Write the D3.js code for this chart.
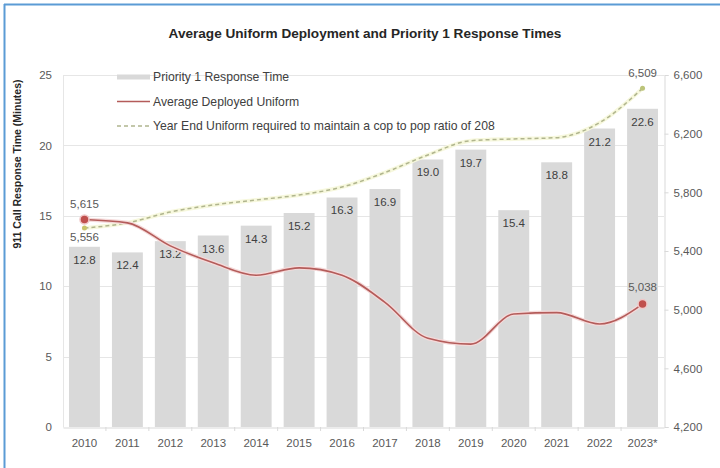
<!DOCTYPE html>
<html><head><meta charset="utf-8">
<script src="https://cdn.jsdelivr.net/npm/d3@7"></script>
<style>
body{margin:0;background:#fff;}
svg text{font-family:"Liberation Sans","Open Sans",sans-serif;}
</style></head>
<body><svg id="c" width="720" height="468"></svg>
<script>
const years = ["2010","2011","2012","2013","2014","2015","2016","2017","2018","2019","2020","2021","2022","2023*"];
const responseTime = [12.8,12.4,13.2,13.6,14.3,15.2,16.3,16.9,19.0,19.7,15.4,18.8,21.2,22.6];
const deployed = [5615,5592,5435,5320,5235,5285,5235,5050,4805,4765,4970,4980,4902,5038];
const required = [5556,5592,5666,5714,5748,5782,5836,5935,6055,6152,6164,6173,6275,6509];
const leftTicks = [0,5,10,15,20,25];
const rightTicks = [4200,4600,5000,5400,5800,6200,6600];
const legendLabels = ["Priority 1 Response Time","Average Deployed Uniform","Year End Uniform required to maintain a cop to pop ratio of 208"];
const title = "Average Uniform Deployment and Priority 1 Response Times";
const yTitle = "911 Call Response Time (Minutes)";

const svg = d3.select("#c");
const L=63, R=664, T=75, B=427;
const x = d3.scaleBand().domain(years).range([L,R]).paddingInner(0.28).paddingOuter(0.14);
const yL = d3.scaleLinear().domain([0,25]).range([B,T]);
const yR = d3.scaleLinear().domain([4200,6600]).range([B,T]);
const cx = d => x(d)+x.bandwidth()/2;
const FS = 11.5;

// border (top & left)
svg.append("line").attr("x1",4).attr("x2",720).attr("y1",4.5).attr("y2",4.5).attr("stroke","#5b9bd5").attr("stroke-width",2);
svg.append("line").attr("x1",4.5).attr("x2",4.5).attr("y1",4).attr("y2",468).attr("stroke","#5b9bd5").attr("stroke-width",2);

// title
svg.append("text").attr("x",365).attr("y",38).attr("text-anchor","middle")
  .attr("font-size",13.6).attr("font-weight","bold").attr("fill","#262626").text(title);

// gridlines
svg.append("g").selectAll("line").data(leftTicks.filter(t=>t>0)).join("line")
  .attr("x1",L).attr("x2",R).attr("y1",d=>Math.round(yL(d))+0.5).attr("y2",d=>Math.round(yL(d))+0.5)
  .attr("stroke","#e6e6e6").attr("stroke-width",1);

// bars
svg.append("g").selectAll("rect").data(years).join("rect")
  .attr("x",d=>x(d)).attr("width",x.bandwidth())
  .attr("y",(d,i)=>yL(responseTime[i])).attr("height",(d,i)=>B-yL(responseTime[i]))
  .attr("fill","#d9d9d9");
svg.append("g").selectAll("text").data(years).join("text")
  .attr("x",d=>cx(d)).attr("y",(d,i)=>yL(responseTime[i])+17).attr("text-anchor","middle")
  .attr("font-size",FS).attr("fill","#404040").text((d,i)=>responseTime[i].toFixed(1));

// axes
const axL = d3.axisLeft(yL).tickValues(leftTicks).tickSize(0).tickPadding(11);
const gL = svg.append("g").attr("transform",`translate(${L},0)`).call(axL);
gL.select(".domain").attr("stroke","#e6e6e6");
gL.selectAll("text").attr("font-size",FS).attr("fill","#595959").attr("font-family","Liberation Sans");

const axR = d3.axisRight(yR).tickValues(rightTicks).tickSize(4).tickPadding(5).tickFormat(d3.format(","));
const gR = svg.append("g").attr("transform",`translate(${R+0.5},0)`).call(axR);
gR.select(".domain").attr("stroke","#d9d9d9");
gR.selectAll("line").attr("stroke","#d9d9d9");
gR.selectAll("text").attr("font-size",FS).attr("fill","#595959").attr("font-family","Liberation Sans");

const axB = d3.axisBottom(x).tickSize(0).tickPadding(11);
const gB = svg.append("g").attr("transform",`translate(0,${B+0.5})`).call(axB);
gB.select(".domain").attr("stroke","#d9d9d9");
gB.selectAll("text").attr("font-size",FS).attr("fill","#595959").attr("font-family","Liberation Sans");
svg.append("g").selectAll("line").data(years.slice(1)).join("line")
  .attr("x1",d=>x(d)-x.step()*x.paddingInner()/2).attr("x2",d=>x(d)-x.step()*x.paddingInner()/2)
  .attr("y1",B).attr("y2",B+4).attr("stroke","#d9d9d9");

// y title
svg.append("text").attr("transform","translate(21,164) rotate(-90)").attr("text-anchor","middle")
  .attr("font-size",10.5).attr("font-weight","bold").attr("fill","#262626").text(yTitle);

// lines
const lineR = d3.line().x((d,i)=>cx(years[i])).y(d=>yR(d)).curve(d3.curveMonotoneX);
svg.append("path").attr("d",lineR(required)).attr("fill","none").attr("stroke","#f7f8dd").attr("stroke-width",4);
svg.append("path").attr("d",lineR(required)).attr("fill","none").attr("stroke","#b0b58e").attr("stroke-width",1.5).attr("stroke-dasharray","4,3");
svg.append("path").attr("d",lineR(deployed)).attr("fill","none").attr("stroke","#f5dada").attr("stroke-width",4);
svg.append("path").attr("d",lineR(deployed)).attr("fill","none").attr("stroke","#b45c5a").attr("stroke-width",1.6);

// endpoints
const last = years.length-1;
svg.append("circle").attr("cx",cx(years[0])).attr("cy",yR(required[0])).attr("r",2.5).attr("fill","#c9c46a");
svg.append("circle").attr("cx",cx(years[last])).attr("cy",yR(required[last])).attr("r",2.5).attr("fill","#bcc47a");
[0,last].forEach(i=>{
  svg.append("circle").attr("cx",cx(years[i])).attr("cy",yR(deployed[i])).attr("r",4.5).attr("fill","#c0504d").attr("stroke","#f0c8c8").attr("stroke-width",1.5);
});
const fmt = d3.format(",");
svg.append("text").attr("x",cx(years[0])).attr("y",yR(deployed[0])-11).attr("text-anchor","middle").attr("font-size",FS).attr("fill","#595959").text(fmt(deployed[0]));
svg.append("text").attr("x",cx(years[0])).attr("y",yR(required[0])+13).attr("text-anchor","middle").attr("font-size",FS).attr("fill","#595959").text(fmt(required[0]));
svg.append("text").attr("x",cx(years[last])).attr("y",yR(deployed[last])-13).attr("text-anchor","middle").attr("font-size",FS).attr("fill","#595959").text(fmt(deployed[last]));
svg.append("text").attr("x",cx(years[last])).attr("y",yR(required[last])-11).attr("text-anchor","middle").attr("font-size",FS).attr("fill","#595959").text(fmt(required[last]));

// legend
const lg = svg.append("g");
const ly = [77,101.5,126];
lg.append("rect").attr("x",117).attr("y",ly[0]-2.5).attr("width",33).attr("height",5).attr("fill","#d9d9d9");
lg.append("line").attr("x1",117).attr("x2",150).attr("y1",ly[1]).attr("y2",ly[1]).attr("stroke","#b45c5a").attr("stroke-width",1.6);
lg.append("line").attr("x1",117).attr("x2",150).attr("y1",ly[2]).attr("y2",ly[2]).attr("stroke","#b0b58e").attr("stroke-width",1.5).attr("stroke-dasharray","4,3");
lg.selectAll("text").data(legendLabels).join("text").attr("x",153).attr("y",(d,i)=>ly[i]+4)
  .attr("font-size",12.2).attr("fill","#404040").text(d=>d);
</script></body></html>
